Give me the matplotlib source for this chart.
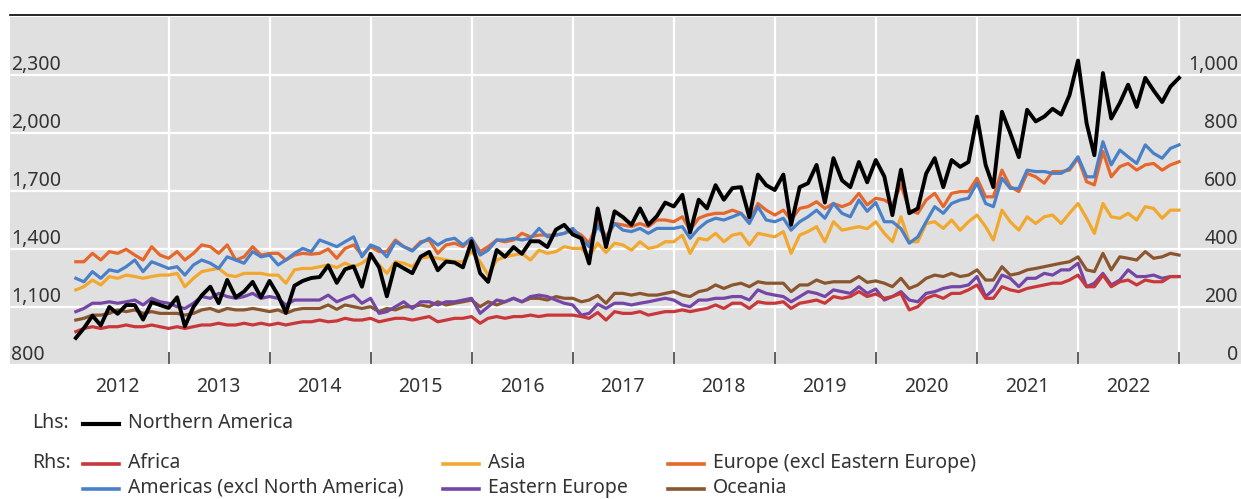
#!/usr/bin/env python3
import pandas as pd
import matplotlib
matplotlib.use("Agg")
from matplotlib import pyplot as plt
from matplotlib.lines import Line2D

plt.rcParams['font.family'] = ['Noto Sans', 'DejaVu Sans']
plt.rcParams['font.size'] = 14

# ------- data (monthly, Feb 2012 .. Jan 2023) -------
months = pd.date_range('2012-02-01', '2023-01-01', freq='MS')

# Lhs
northern_america = [
    940, 990, 1055, 1005, 1100, 1065, 1110, 1110, 1035, 1125, 1110,
    1095, 1150, 1000, 1100, 1160, 1205, 1120, 1240, 1150, 1180, 1230, 1150,
    1235, 1160, 1070, 1210, 1235, 1250, 1255, 1315, 1225, 1295, 1310, 1205,
    1375, 1305, 1155, 1325, 1300, 1275, 1360, 1385, 1290, 1335, 1330, 1305,
    1440, 1275, 1230, 1395, 1360, 1410, 1375, 1440, 1440, 1410, 1500, 1525,
    1475, 1455, 1325, 1610, 1410, 1595, 1565, 1525, 1610, 1525, 1570, 1640,
    1620, 1680, 1485, 1655, 1610, 1730, 1655, 1715, 1720, 1565, 1785, 1730,
    1705, 1785, 1525, 1720, 1740, 1835, 1640, 1870, 1755, 1720, 1850, 1745,
    1860, 1775, 1575, 1810, 1585, 1610, 1790, 1870, 1720, 1860, 1825, 1850,
    2085, 1835, 1720, 2110, 2000, 1875, 2120, 2060, 2085, 2125, 2095, 2195,
    2375, 2050, 1885, 2310, 2075, 2155, 2250, 2135, 2285, 2220, 2160, 2240,
    2285,
]

# Rhs
africa = [
    115, 126, 132, 126, 132, 132, 138, 132, 132, 138, 132,
    126, 132, 126, 132, 138, 138, 144, 138, 138, 144, 138, 144,
    138, 144, 138, 144, 149, 149, 155, 149, 152, 161, 155, 155,
    161, 149, 155, 161, 161, 155, 161, 167, 149, 155, 161, 161,
    167, 144, 161, 167, 161, 167, 167, 172, 167, 172, 172, 172,
    172, 167, 161, 181, 155, 184, 178, 178, 184, 172, 178, 184,
    184, 190, 184, 190, 195, 207, 195, 213, 213, 195, 218, 213,
    213, 218, 195, 213, 218, 224, 213, 236, 230, 236, 253, 236,
    245, 230, 236, 247, 190, 201, 230, 241, 230, 247, 247, 259,
    276, 230, 230, 270, 259, 253, 264, 270, 276, 282, 282, 293,
    310, 270, 270, 310, 270, 287, 293, 276, 293, 287, 287, 305,
    305,
]
americas = [
    299, 287, 322, 299, 328, 322, 339, 362, 322, 356, 345,
    333, 339, 310, 345, 362, 351, 333, 373, 362, 351, 391, 373,
    379, 345, 362, 385, 402, 391, 431, 420, 408, 425, 442, 373,
    414, 402, 373, 425, 408, 393, 420, 437, 414, 431, 437, 414,
    437, 379, 396, 431, 431, 437, 431, 437, 471, 442, 448, 454,
    471, 437, 408, 480, 437, 488, 465, 460, 471, 454, 471, 471,
    471, 477, 437, 471, 494, 506, 500, 511, 523, 488, 546, 500,
    494, 506, 465, 494, 511, 534, 506, 557, 523, 511, 569, 530,
    560, 494, 494, 470, 420, 442, 494, 546, 523, 557, 569, 575,
    627, 557, 546, 644, 609, 609, 672, 667, 667, 661, 661, 678,
    718, 649, 649, 770, 690, 741, 718, 695, 759, 730, 713, 747,
    759,
]
asia = [
    259, 270, 293, 276, 305, 299, 310, 305, 299, 305, 310,
    310, 316, 270, 299, 322, 328, 333, 310, 305, 316, 316, 316,
    310, 310, 282, 328, 333, 333, 339, 345, 336, 351, 339, 351,
    373, 345, 316, 356, 351, 339, 368, 373, 368, 362, 356, 356,
    391, 356, 310, 362, 373, 379, 385, 362, 396, 385, 391, 408,
    402, 402, 373, 420, 388, 420, 414, 396, 425, 402, 408, 425,
    425, 448, 385, 437, 431, 454, 425, 448, 454, 414, 454, 448,
    442, 460, 385, 448, 460, 477, 425, 494, 465, 471, 477, 470,
    494, 454, 425, 511, 425, 425, 488, 494, 471, 500, 465, 494,
    517, 477, 431, 534, 494, 465, 511, 488, 511, 517, 488, 523,
    557, 506, 454, 557, 511, 506, 523, 500, 546, 540, 506, 534,
    534,
]
eastern_europe = [
    184, 195, 213, 213, 218, 213, 218, 224, 207, 230, 218,
    213, 201, 195, 213, 236, 230, 247, 236, 230, 236, 247, 230,
    236, 230, 207, 224, 224, 224, 224, 241, 218, 230, 241, 213,
    230, 178, 184, 201, 218, 195, 218, 218, 207, 218, 218, 224,
    230, 178, 201, 224, 218, 230, 218, 236, 241, 236, 224, 213,
    207, 172, 178, 210, 195, 213, 213, 207, 213, 218, 224, 230,
    224, 207, 201, 224, 224, 230, 230, 236, 236, 224, 259, 247,
    241, 236, 218, 236, 253, 247, 236, 259, 253, 247, 270, 247,
    262, 224, 236, 253, 224, 218, 247, 253, 264, 270, 270, 276,
    305, 236, 259, 310, 299, 270, 299, 299, 316, 310, 328, 328,
    351, 270, 282, 316, 276, 293, 328, 305, 305, 310, 299, 305,
    305,
]
europe = [
    356, 356, 385, 362, 391, 385, 399, 379, 362, 408, 379,
    368, 391, 362, 385, 414, 408, 385, 414, 362, 373, 408, 379,
    385, 385, 362, 379, 385, 382, 385, 400, 368, 402, 414, 379,
    408, 391, 391, 431, 408, 396, 425, 431, 385, 414, 420, 408,
    437, 391, 408, 431, 425, 431, 454, 442, 448, 448, 448, 454,
    465, 448, 420, 495, 442, 488, 483, 477, 488, 477, 500, 500,
    494, 511, 465, 506, 517, 523, 523, 534, 523, 494, 557, 534,
    517, 534, 500, 540, 546, 563, 540, 557, 546, 557, 592, 552,
    575, 569, 552, 621, 534, 523, 569, 592, 546, 592, 598, 598,
    644, 580, 580, 672, 615, 598, 661, 649, 627, 667, 667, 672,
    713, 632, 621, 736, 649, 684, 695, 672, 690, 695, 672, 690,
    701,
]
oceania = [
    155, 161, 172, 172, 178, 190, 184, 190, 178, 184, 178,
    178, 178, 172, 178, 190, 195, 184, 195, 190, 190, 195, 190,
    184, 190, 178, 190, 195, 195, 195, 207, 192, 207, 201, 195,
    201, 184, 195, 190, 201, 201, 207, 201, 218, 207, 213, 218,
    224, 201, 218, 207, 218, 230, 218, 230, 230, 224, 236, 230,
    230, 218, 224, 240, 213, 247, 247, 241, 247, 241, 241, 247,
    253, 241, 236, 253, 259, 276, 264, 276, 282, 270, 287, 282,
    282, 282, 253, 276, 276, 293, 282, 287, 287, 287, 305, 285,
    290, 282, 270, 299, 264, 276, 299, 310, 305, 316, 305, 310,
    328, 293, 293, 339, 310, 316, 328, 333, 339, 345, 351, 356,
    373, 328, 322, 385, 328, 373, 368, 362, 391, 368, 373, 385,
    379,
]

year_starts = pd.to_datetime(['%d-01-01' % y for y in range(2013, 2024)])
year_mids = pd.to_datetime(['%d-07-01' % y for y in range(2012, 2023)])
year_labels = [str(y) for y in range(2012, 2023)]

# ------- style -------
TXT = '#333333'
BG = '#e0e0e0'
LW = 2.3
col = {
    'Northern America': 'black',
    'Africa': '#c8373a',
    'Americas (excl North America)': '#4a80c8',
    'Asia': '#f2a82e',
    'Eastern Europe': '#7446a6',
    'Europe (excl Eastern Europe)': '#e5672c',
    'Oceania': '#8a5630',
}

W, H = 1241, 499
fig = plt.figure(figsize=(W / 100, H / 100), dpi=100)
ax = fig.add_axes([10 / W, 1 - 365 / H, 1 - 10 / W, (365 - 17) / H])
axl = ax.twinx()

ax.set_facecolor(BG)
ax.set_axisbelow(True)

# rhs series (draw order: blue over orange)
rhs = [('Oceania', oceania), ('Eastern Europe', eastern_europe),
       ('Africa', africa), ('Asia', asia),
       ('Europe (excl Eastern Europe)', europe),
       ('Americas (excl North America)', americas)]
for name, vals in rhs:
    ax.plot(months, vals, color=col[name], lw=LW, solid_joinstyle='round')

axl.plot(months, northern_america, color=col['Northern America'], lw=2.8,
         solid_joinstyle='round')

ax.set_xlim(pd.Timestamp('2011-06-08'), pd.Timestamp('2023-08-13'))
ax.set_ylim(0, 1200)
axl.set_ylim(800, 2600)

ax.yaxis.tick_right()
axl.yaxis.tick_left()

ax.set_yticks(range(0, 1001, 200))
ax.set_yticklabels(['{:,}'.format(v) for v in range(0, 1001, 200)])
axl.set_yticks(range(800, 2301, 300))
axl.set_yticklabels(['{:,}'.format(v) for v in range(800, 2301, 300)])

ax.set_xticks(year_starts)
ax.set_xticklabels([])
ax.set_xticks(year_mids, minor=True)
ax.set_xticklabels(year_labels, minor=True)

ax.tick_params(axis='x', which='major', direction='in', length=9.5,
               width=1.1, color='#333333', labelbottom=False)
ax.tick_params(axis='x', which='minor', length=0, pad=8.5,
               labelsize=14, labelcolor=TXT)
ax.tick_params(axis='y', length=0, pad=-2.2, labelsize=14, labelcolor=TXT)
axl.tick_params(axis='y', length=0, pad=-1.0, labelsize=14, labelcolor=TXT)

for lab in ax.get_yticklabels():
    lab.set_horizontalalignment('right')
    lab.set_verticalalignment('bottom')
for lab in axl.get_yticklabels():
    lab.set_horizontalalignment('left')
    lab.set_verticalalignment('bottom')

ax.grid(True, which='major', color='white', linewidth=1.6)
for a in (ax, axl):
    for s in a.spines.values():
        s.set_visible(False)

# black rule above the panel
fig.add_artist(Line2D([10 / W, 1], [1 - 15 / H, 1 - 15 / H],
                      transform=fig.transFigure, color='black', lw=1.2))

# ------- legend -------
def fx(px):
    return px / W


def fy(py):
    return 1 - py / H


def entry(name, x0, y, lw=2.6):
    fig.add_artist(Line2D([fx(x0), fx(x0 + 36)], [fy(y + 1), fy(y + 1)],
                          transform=fig.transFigure, color=col[name], lw=lw))
    fig.text(fx(x0 + 45), fy(y), name, ha='left', va='center',
             color=TXT, fontsize=14)


fig.text(fx(32), fy(423), 'Lhs:', ha='left', va='center', color=TXT, fontsize=14)
fig.text(fx(32), fy(463), 'Rhs:', ha='left', va='center', color=TXT, fontsize=14)
entry('Northern America', 83, 423, lw=3.0)
entry('Africa', 83, 463)
entry('Americas (excl North America)', 83, 488)
entry('Asia', 443, 463)
entry('Eastern Europe', 443, 488)
entry('Europe (excl Eastern Europe)', 668, 463)
entry('Oceania', 668, 488)

fig.savefig('out.png', dpi=100, facecolor='white')
